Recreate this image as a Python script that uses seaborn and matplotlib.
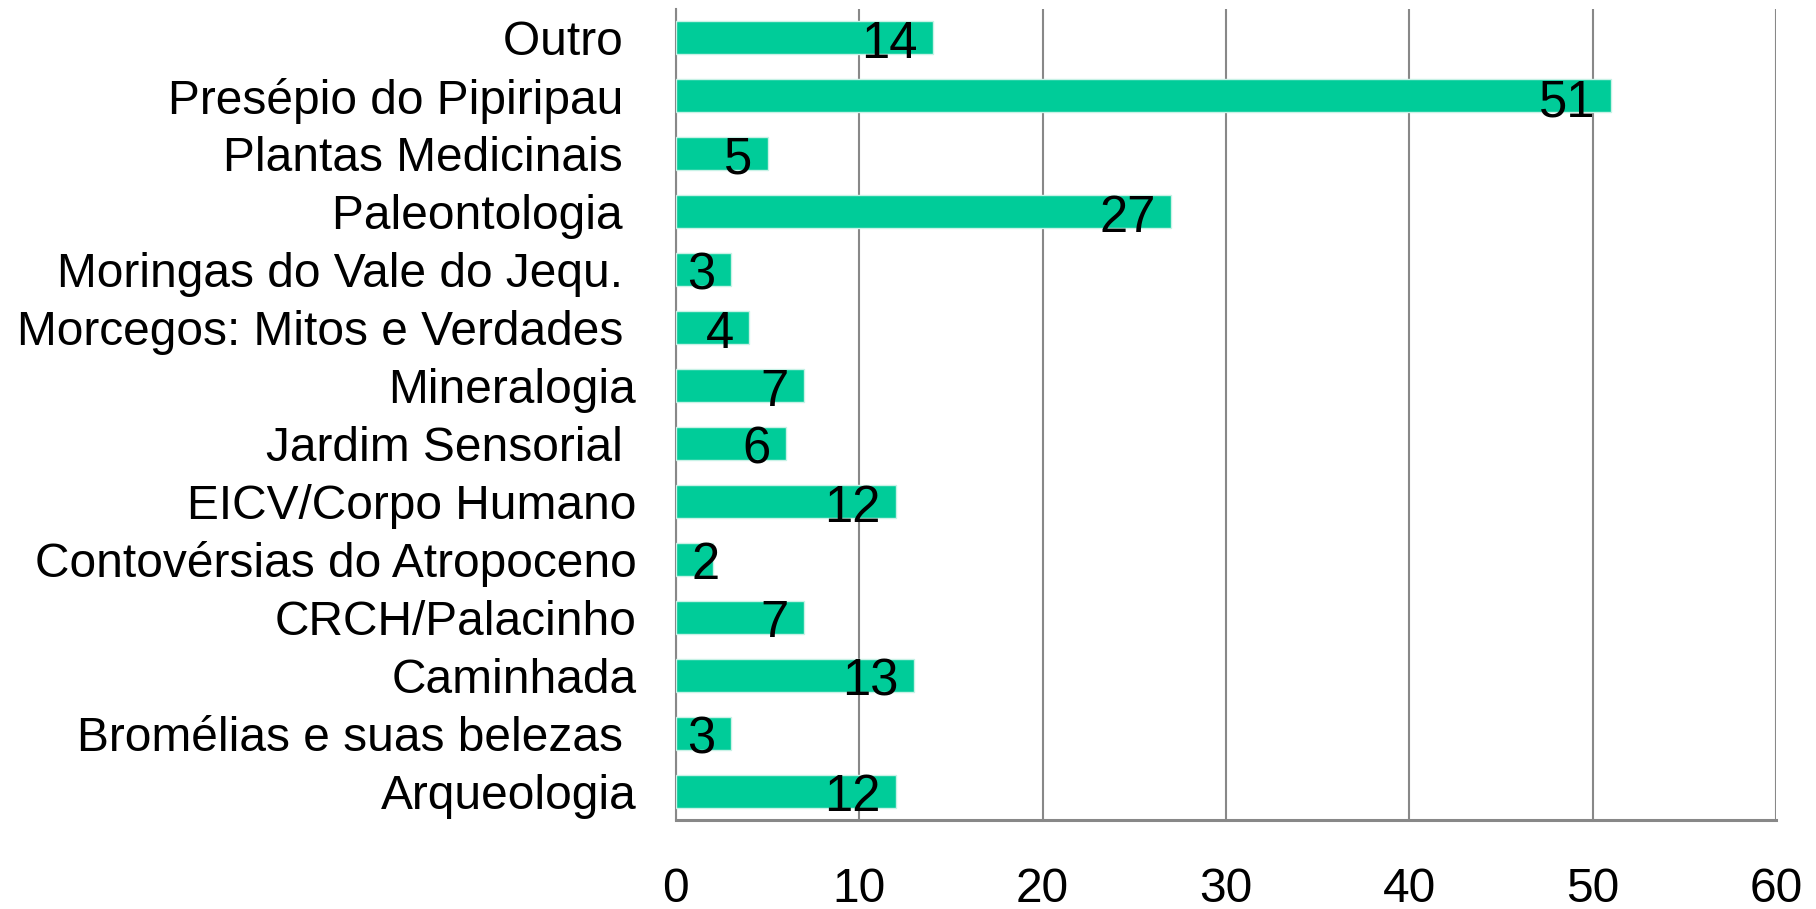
import pandas as pd
import matplotlib.pyplot as plt
import seaborn as sns

# -----------------------------
# DATA
# -----------------------------
atividades = [
    "Outro ",
    "Presépio do Pipiripau ",
    "Plantas Medicinais ",
    "Paleontologia ",
    "Moringas do Vale do Jequ. ",
    "Morcegos: Mitos e Verdades ",
    "Mineralogia",
    "Jardim Sensorial ",
    "EICV/Corpo Humano",
    "Contovérsias do Atropoceno",
    "CRCH/Palacinho",
    "Caminhada",
    "Bromélias e suas belezas ",
    "Arqueologia",
]
votos = [14, 51, 5, 27, 3, 4, 7, 6, 12, 2, 7, 13, 3, 12]
x_ticks = [0, 10, 20, 30, 40, 50, 60]

df = pd.DataFrame({"atividade": atividades, "votos": votos})

# -----------------------------
# PLOT
# -----------------------------
sns.set_theme(style="white")
plt.rcParams["font.family"] = ["Liberation Sans", "DejaVu Sans"]

fig = plt.figure(figsize=(18.16, 9.09), dpi=100)
ax = fig.add_axes([0.3722, 0.0979, 0.6058, 0.8922])

sns.barplot(data=df, x="votos", y="atividade", orient="h", color="#00CC99",
            saturation=1, width=0.57, edgecolor="#c8f2e6", linewidth=1, ax=ax,
            zorder=3)

ax.set_xlim(0, 60)
ax.set_ylim(13.5, -0.5)
ax.set_xticks(x_ticks)
ax.xaxis.grid(True, color="#888888", linewidth=1.5, zorder=0)
ax.set_axisbelow(True)
ax.set_xlabel("")
ax.set_ylabel("")

ax.tick_params(axis="x", labelsize=34.5, pad=34, length=0, colors="black")
ax.tick_params(axis="y", labelsize=34.5, pad=28.5, length=0, colors="black")

for side in ["top", "right"]:
    ax.spines[side].set_visible(False)
ax.spines["left"].set_color("#888888")
ax.spines["left"].set_linewidth(1.5)
ax.spines["bottom"].set_color("#888888")
ax.spines["bottom"].set_linewidth(2.2)

# value labels, inside the end of each bar
for i, v in enumerate(votos):
    if v < 3:
        ax.annotate(str(v), xy=(0, i), xytext=(11, -14.5), textcoords="offset points",
                    ha="left", va="baseline", fontsize=36.5, color="black", zorder=4)
    else:
        ax.annotate(str(v), xy=(v, i), xytext=(-11, -14.5), textcoords="offset points",
                    ha="right", va="baseline", fontsize=36.5, color="black", zorder=4)

plt.savefig("out.png", dpi=100)
